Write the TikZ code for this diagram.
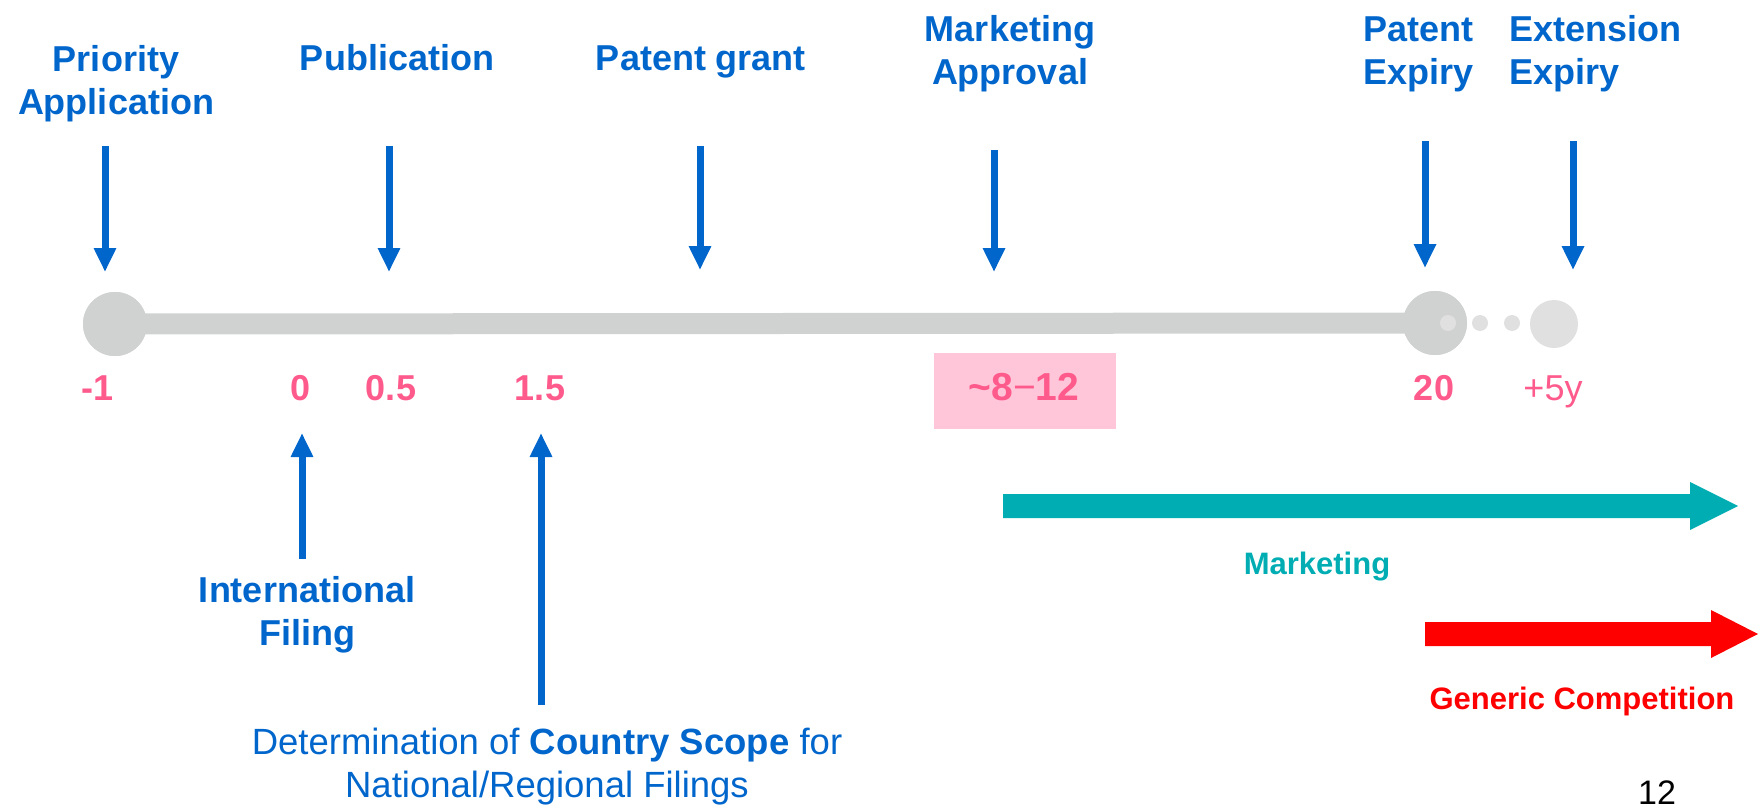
\documentclass[tikz,border=0pt]{standalone}
\usepackage{fontspec}
\setmainfont{Liberation Sans}
\usetikzlibrary{arrows.meta}
\definecolor{cblue}{HTML}{0066CC}
\definecolor{cpink}{HTML}{FF5A8C}
\definecolor{cpinkbox}{HTML}{FFC6D9}
\definecolor{cbar}{HTML}{D0D2D1}
\definecolor{clight}{HTML}{DFE0DF}
\definecolor{cteal}{HTML}{00ADB3}
\definecolor{cred}{HTML}{FF0000}
\tikzset{
  hdr/.style={text=cblue, font=\fontsize{36}{43}\selectfont\bfseries, anchor=base, inner sep=0pt},
  num/.style={text=cpink, font=\fontsize{36}{43}\selectfont\bfseries, anchor=base, inner sep=0pt},
  barrow/.style={draw=cblue, line width=7pt, -{Triangle[width=21pt,length=24pt]}},
  dot/.style={circle, inner sep=0pt, fill=#1}
}
\begin{document}
\begin{tikzpicture}[x=1pt,y=-1pt]
\useasboundingbox (0,0) rectangle (1764,809);

% ---- timeline ----
\node[dot=cbar, minimum size=64pt] (tstart) at (115,324) {};
\node[dot=cbar, minimum size=64pt] (tend) at (1435,323) {};
\draw[cbar, line width=21pt] (tstart.center) -- (tend.center);
\node[dot=cbar, minimum size=64pt] at (115,324) {};
\node[dot=cbar, minimum size=64pt] at (1435,323) {};
\node[dot=clight, minimum size=16pt] (d0) at (1448,323) {};
\node[dot=clight, minimum size=16pt] (d1) at (1480,323) {};
\node[dot=clight, minimum size=16pt] (d2) at (1512,323) {};
\node[dot=clight, minimum size=48pt] (ext) at (1554,324) {};

% ---- header labels (anchor=base is the last line's baseline) ----
\node[hdr, align=center] (prio) at (116,114) {Priority\\Application};
\node[hdr] (pub) at (397,70) {Publication};
\node[hdr] (grant) at (701,70) {Patent grant};
\node[hdr, align=center] (mapp) at (1010,84) {Marketing\\Approval};
\node[hdr, align=left, anchor=base west] (pexp) at (1363,84) {Patent\\Expiry};
\node[hdr, align=left, anchor=base west] (eexp) at (1509,84) {Extension\\Expiry};

% ---- down arrows ----
\coordinate (prio-s) at (105,146);  \coordinate (prio-e) at (105,272);
\coordinate (pub-s) at (389,146);   \coordinate (pub-e) at (389,272);
\coordinate (grant-s) at (700,146); \coordinate (grant-e) at (700,270);
\coordinate (mapp-s) at (994,150);  \coordinate (mapp-e) at (994,272);
\coordinate (pexp-s) at (1425,141); \coordinate (pexp-e) at (1425,268);
\coordinate (eexp-s) at (1573,141); \coordinate (eexp-e) at (1573,270);
\draw[barrow] (prio-s) -- (prio-e);
\draw[barrow] (pub-s) -- (pub-e);
\draw[barrow] (grant-s) -- (grant-e);
\draw[barrow] (mapp-s) -- (mapp-e);
\draw[barrow] (pexp-s) -- (pexp-e);
\draw[barrow] (eexp-s) -- (eexp-e);

% ---- year numbers ----
\node[num] (n1) at (98,400) {-1};
\node[num] (n0) at (301,400) {0};
\node[num] (n05) at (391,400) {0.5};
\node[num] (n15) at (540,400) {1.5};
\node[fill=cpinkbox, minimum width=182pt, minimum height=76pt, inner sep=0pt] (apbox) at (1025,391) {};
\node[num, font=\fontsize{39}{45}\selectfont\bfseries] (n812) at (1024,400) {\textasciitilde 8{\mdseries −}12};
\node[num] (n20) at (1434,400) {20};
\node[num, font=\fontsize{36}{43}\selectfont] (n5y) at (1553,400) {+5y};

% ---- up arrows ----
\node[hdr, align=center] (intl) at (307,645) {International\\Filing};
\coordinate (intl-s) at (302,559);  \coordinate (intl-e) at (302,433);
\draw[barrow] (intl-s) -- (intl-e);
\node[text=cblue, font=\fontsize{36.5}{43}\selectfont, anchor=base, align=center, inner sep=0pt] (scope) at (547,797)
  {Determination of \textbf{Country Scope} for\\National/Regional Filings};
\coordinate (scope-s) at (541,705); \coordinate (scope-e) at (541,433);
\draw[barrow] (scope-s) -- (scope-e);

% ---- marketing / generic competition ----
\fill[cteal] (1003,494) -- (1690,494) -- (1690,482) -- (1738,506) -- (1690,530) -- (1690,518) -- (1003,518) -- cycle;
\node[text=cteal, font=\fontsize{31}{36}\selectfont\bfseries, anchor=base, inner sep=0pt] (mkt) at (1317,574) {Marketing};
\fill[cred] (1425,622) -- (1711,622) -- (1711,610) -- (1758,634) -- (1711,658) -- (1711,646) -- (1425,646) -- cycle;
\node[text=cred, font=\fontsize{31}{36}\selectfont\bfseries, anchor=base, inner sep=0pt] (gen) at (1582,709) {Generic Competition};

% ---- page number ----
\node[text=black, font=\fontsize{34}{40}\selectfont, anchor=base, inner sep=0pt] (page) at (1657,804) {12};
\end{tikzpicture}
\end{document}
